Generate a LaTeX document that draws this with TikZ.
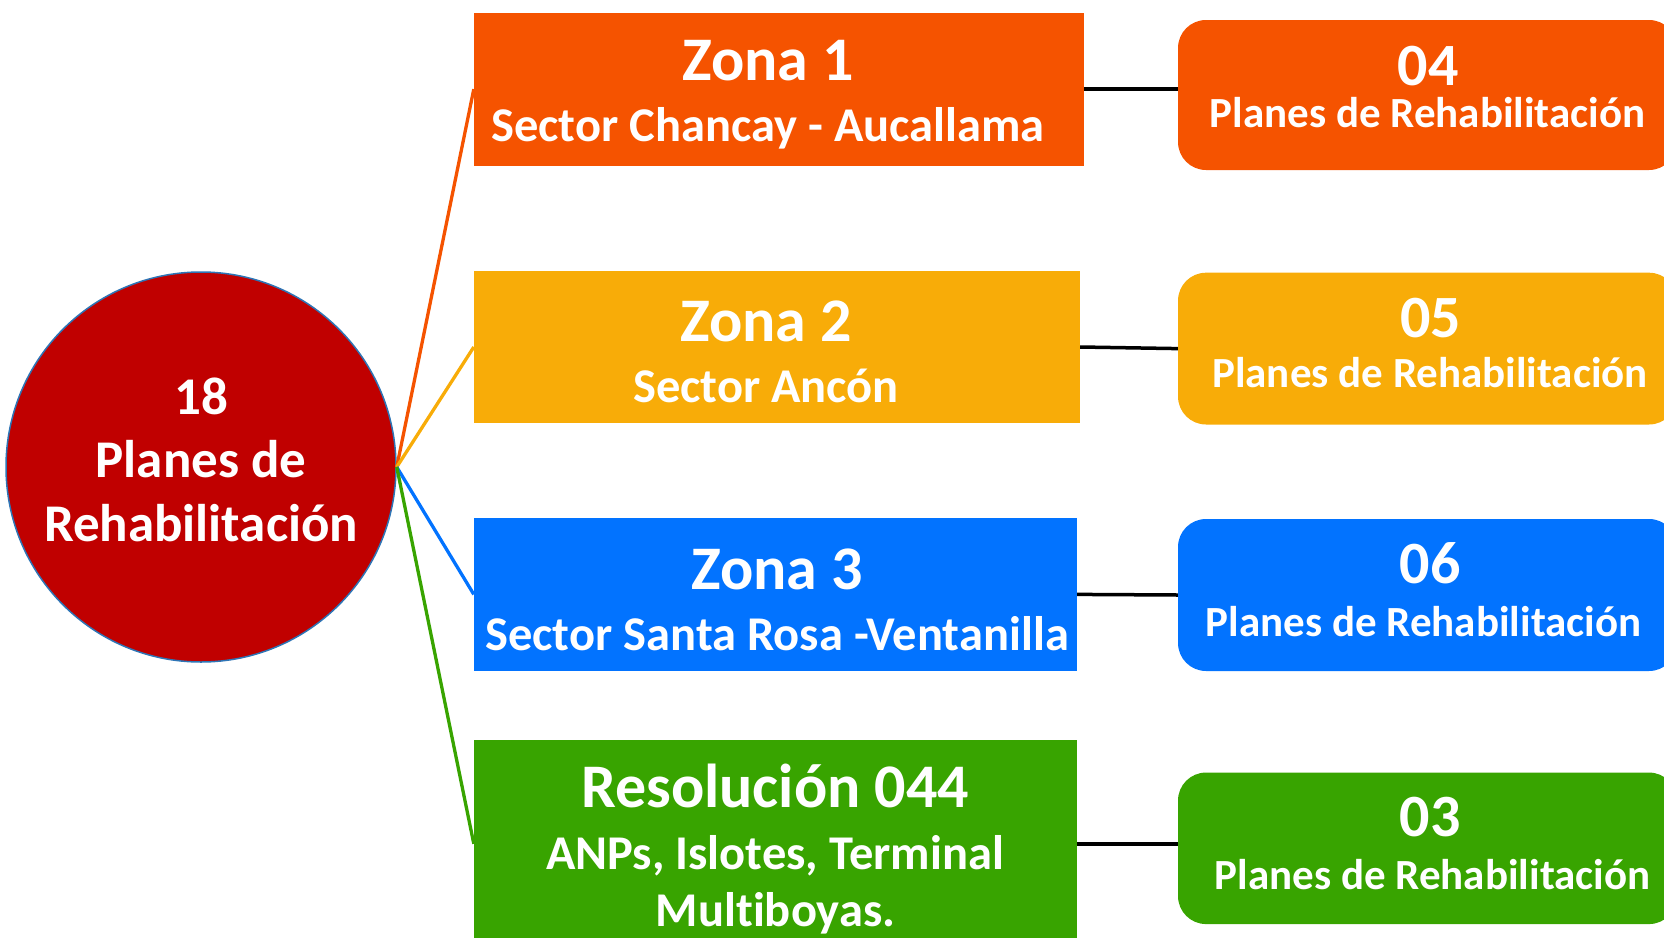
\documentclass[tikz,border=0pt]{standalone}
\usepackage{fontspec}
\setmainfont{Carlito}[Ligatures={NoCommon,NoRequired,NoContextual}]
\definecolor{corange}{RGB}{245,83,0}
\definecolor{cyellow}{RGB}{248,172,8}
\definecolor{cblue}{RGB}{2,115,255}
\definecolor{cgreen}{RGB}{56,164,0}
\definecolor{cred}{RGB}{192,0,0}
\definecolor{cborder}{RGB}{46,117,182}
\begin{document}
\begin{tikzpicture}[x=1pt,y=-1pt,
  zone/.style={rectangle, inner sep=0pt, draw=none},
  plan/.style={rectangle, rounded corners=28pt, inner sep=0pt, draw=none},
  txt/.style={text=white, anchor=base, inner sep=0pt},
  big/.style={txt, font=\bfseries\fontsize{62}{62}\selectfont},
  mid/.style={txt, font=\bfseries\fontsize{48.5}{48.5}\selectfont},
  circ/.style={txt, font=\bfseries\fontsize{53}{53}\selectfont},
  num/.style={txt, font=\bfseries\fontsize{60}{60}\selectfont},
  pl/.style={txt, font=\bfseries\fontsize{43}{43}\selectfont},
  conn/.style={line width=3.3pt},
  blk/.style={line width=3.5pt, black}
]
\useasboundingbox (0,0) rectangle (1664,937);
\clip (0,0) rectangle (1664,937);

% centre circle
\node[circle, fill=cred, draw=cborder, line width=1.5pt, minimum size=390pt, inner sep=0pt] (c) at (201,467) {};
\node[circ] (c1) at (201,414) {18};
\node[circ] (c2) at (201,477) {Planes de};
\node[circ] (c3) at (201,541) {Rehabilitación};

% zone rectangles
\node[zone, fill=corange, minimum width=610pt, minimum height=152.8pt] (z1) at (779,89.1) {};
\node[zone, fill=cyellow, minimum width=606pt, minimum height=152.8pt] (z2) at (777,347) {};
\node[zone, fill=cblue, minimum width=603pt, minimum height=152.7pt] (z3) at (775.5,594.4) {};
\node[zone, fill=cgreen, minimum width=603pt, minimum height=208.4pt] (z4) at (775.5,843.8) {};

\node[big] (z1a) at (768,80) {Zona 1};
\node[mid] (z1b) at (768,141) {Sector Chancay - Aucallama};
\node[big] (z2a) at (766,341) {Zona 2};
\node[mid] (z2b) at (766,402.5) {Sector Ancón};
\node[big] (z3a) at (777,589) {Zona 3};
\node[mid] (z3b) at (777,650) {Sector Santa Rosa -Ventanilla};
\node[big] (z4a) at (775,807) {Resolución 044};
\node[mid] (z4b) at (775,869) {ANPs, Islotes, Terminal};
\node[mid] (z4c) at (775.5,926) {Multiboyas.};

% plan boxes
\node[plan, fill=corange, minimum width=499pt, minimum height=150pt] (b1) at (1427.5,95) {};
\node[plan, fill=cyellow, minimum width=499pt, minimum height=151.8pt] (b2) at (1427.5,348.6) {};
\node[plan, fill=cblue, minimum width=499pt, minimum height=152pt] (b3) at (1427.5,595) {};
\node[plan, fill=cgreen, minimum width=499pt, minimum height=151.5pt] (b4) at (1427.5,848.3) {};

\node[num] (b1a) at (1428,85) {04};
\node[pl] (b1b) at (1427.5,127) {Planes de Rehabilitación};
\node[num] (b2a) at (1430.5,337.5) {05};
\node[pl] (b2b) at (1430,387) {Planes de Rehabilitación};
\node[num] (b3a) at (1430,583.6) {06};
\node[pl] (b3b) at (1423.6,636.7) {Planes de Rehabilitación};
\node[num] (b4a) at (1430,836) {03};
\node[pl] (b4b) at (1432.6,889) {Planes de Rehabilitación};

% connectors from circle
\draw[conn, corange] (c.east) -- (z1.west);
\draw[conn, cyellow] (c.east) -- (z2.west);
\draw[conn, cblue] (c.east) -- (z3.west);
\draw[conn, cgreen] (c.east) -- (z4.west);

% black connectors
\draw[blk] (z1.east) -- (z1.east -| b1.west);
\draw[blk] (z2.east) -- (b2.west);
\draw[blk] (z3.east) -- (b3.west);
\draw[blk] (z4.east) -- (z4.east -| b4.west);
\end{tikzpicture}
\end{document}
